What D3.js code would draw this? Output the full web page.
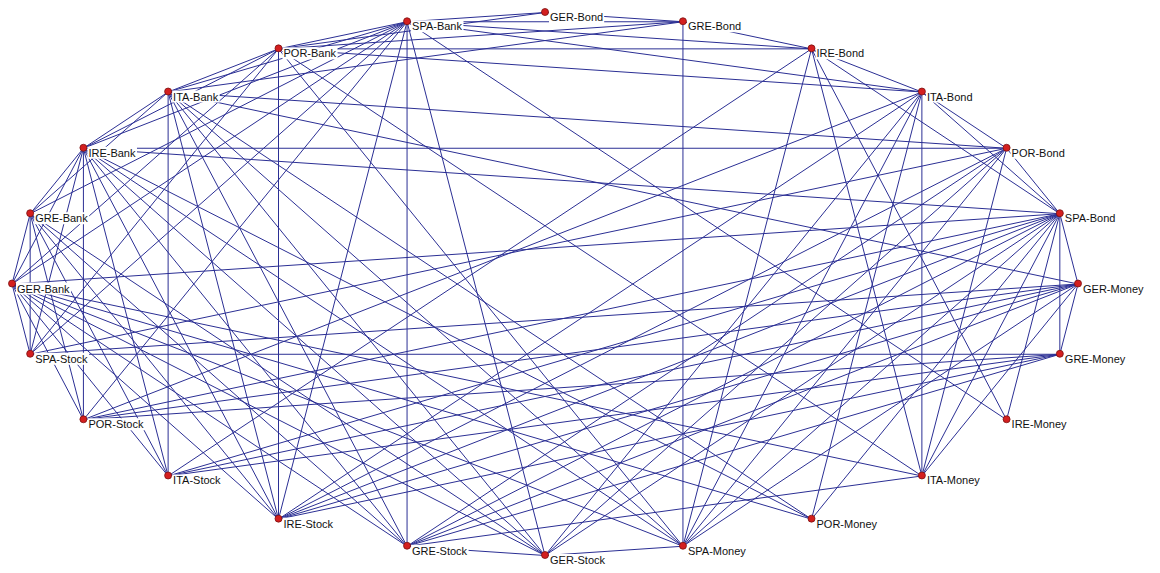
<!DOCTYPE html>
<html><head><meta charset="utf-8">
<script src="https://cdn.jsdelivr.net/npm/d3@7"></script>
<style>body{margin:0;background:#fff}</style>
</head><body>
<svg id="net" width="1160" height="573"></svg>
<script>
// nodes clockwise from the top of the ellipse
var nodes = ["GER-Bond","GRE-Bond","IRE-Bond","ITA-Bond","POR-Bond","SPA-Bond",
  "GER-Money","GRE-Money","IRE-Money","ITA-Money","POR-Money","SPA-Money",
  "GER-Stock","GRE-Stock","IRE-Stock","ITA-Stock","POR-Stock","SPA-Stock",
  "GER-Bank","GRE-Bank","IRE-Bank","ITA-Bank","POR-Bank","SPA-Bank"];

var links = [[0,1],[0,23],[0,22],[1,23],[1,2],[1,22],[2,3],[2,23],[2,22],[3,4],[3,23],[3,22],[4,5],[3,5],[2,5],
  [23,22],[23,21],[22,21],[21,20],[20,19],[19,18],[18,17],[20,18],[21,19],
  [1,11],[23,13],[22,14],[21,15],[3,9],[17,7],[20,4],[12,13],[12,11],
  [5,18],[5,16],[5,15],[5,14],[5,13],[5,12],[5,11],[5,10],[5,9],[5,20],[5,6],[5,7],
  [6,17],[6,16],[6,15],[6,14],[6,13],[6,11],[6,9],[6,7],[6,21],
  [7,16],[7,15],[7,14],[7,13],
  [8,23],[8,2],[8,5],
  [9,2],[9,4],[9,22],[9,13],
  [10,21],[10,20],[10,3],
  [11,22],[11,21],[11,3],[11,4],[11,2],
  [12,23],[12,21],[12,4],[12,3],
  [13,21],[13,20],[13,19],[13,18],[13,4],
  [14,21],[14,20],[14,19],[14,18],[14,23],[14,4],[14,3],
  [15,20],[15,19],[15,18],[15,2],
  [16,18],[16,19],[16,20],[16,23],[16,3],
  [17,19],[17,20],[17,23],[17,22],[17,4],
  [18,23],[18,22],[18,12],[18,11],[18,10],[18,9],
  [19,23],[19,12],
  [20,23],[20,22],[20,12],[20,11],
  [21,4],[21,1]];

var svg = d3.select("#net");
var angle = d3.scaleLinear().domain([0, nodes.length]).range([0, 2 * Math.PI]);
var xs = d3.scaleLinear().domain([-1, 1]).range([12, 1078]);
var ys = d3.scaleLinear().domain([-1, 1]).range([12, 555]);

var pts = nodes.map(function(n, i) {
  return { name: n, x: xs(Math.sin(angle(i))), y: ys(-Math.cos(angle(i))) };
});

svg.selectAll(".link").data(links).enter().append("line")
  .attr("x1", function(d) { return pts[d[0]].x; })
  .attr("y1", function(d) { return pts[d[0]].y + 0.5; })
  .attr("x2", function(d) { return pts[d[1]].x; })
  .attr("y2", function(d) { return pts[d[1]].y + 0.5; })
  .attr("stroke", "#2b2f94").attr("stroke-width", 1);

var lab = svg.selectAll(".label").data(pts).enter().append("g");
lab.append("text")
  .attr("x", function(d) { return d.x + 5; })
  .attr("y", function(d) { return d.y + 9; })
  .attr("font-family", "Liberation Sans, Arial, sans-serif")
  .attr("font-size", 11).attr("fill", "#111")
  .text(function(d) { return d.name; });
lab.each(function() {
  var g = d3.select(this), b = g.select("text").node().getBBox();
  g.insert("rect", "text").attr("x", b.x - 1).attr("y", b.y)
    .attr("width", b.width + 2).attr("height", b.height).attr("fill", "#fff");
});

svg.selectAll(".node").data(pts).enter().append("circle")
  .attr("cx", function(d) { return d.x; })
  .attr("cy", function(d) { return d.y; })
  .attr("r", 3.5).attr("fill", "#d41f1f").attr("stroke", "#7a1010").attr("stroke-width", 0.8);
</script>
</body></html>
